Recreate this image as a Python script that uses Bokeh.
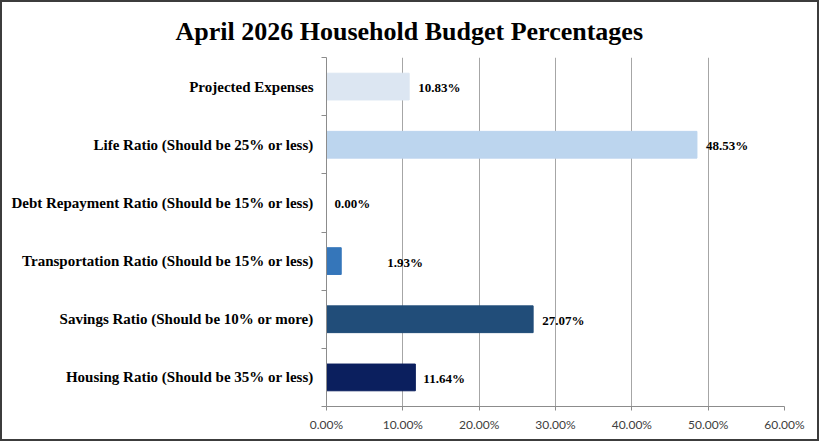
from bokeh.plotting import figure
from bokeh.models import FixedTicker, NumeralTickFormatter, ColumnDataSource, Range1d
from bokeh.embed import file_html
from bokeh.resources import INLINE
from bokeh.core.properties import value

# Budget categories, listed bottom to top
categories = [
    "Housing Ratio (Should be 35% or less)",
    "Savings Ratio (Should be 10% or more)",
    "Transportation Ratio (Should be 15% or less)",
    "Debt Repayment Ratio (Should be 15% or less)",
    "Life Ratio (Should be 25% or less)",
    "Projected Expenses",
]
# Share of income for each category (percent)
percentages = [11.64, 27.07, 1.93, 0.00, 48.53, 10.83]
# Axis ticks (percent)
x_ticks = [0, 10, 20, 30, 40, 50, 60]

bar_colors = ["#0B1F5E", "#214D79", "#3576BA", "#3576BA", "#BCD5EE", "#DCE6F2"]
label_nudge = [8, 9, 46, 8, 9, 9]

SERIF = "Liberation Serif"
SANS = "Lato"
B = 2  # outer border width

pos = [i + 0.5 for i in range(len(categories))]
frac = [v / 100 for v in percentages]

src = ColumnDataSource(dict(
    y=pos, x=frac, color=bar_colors,
    label=[f"{v:.2f}%" for v in percentages],
    nudge=label_nudge,
))

p = figure(width=819, height=441,
           output_backend="svg", toolbar_location=None,
           x_range=Range1d(0, 0.60), y_range=Range1d(0, len(categories)),
           min_border_left=324, min_border_right=37,
           min_border_top=55, min_border_bottom=37)
p.styles = {"border": f"{B}px solid #3C3C3C"}
p.outline_line_color = None
p.background_fill_color = "white"
p.border_fill_color = "white"

p.title.text = "April 2026 Household Budget Percentages"
p.title.text_font = SERIF
p.title.text_font_style = "bold"
p.title.text_font_size = "26px"
p.title.text_color = "black"
p.title.align = "left"
p.title.offset = -151
p.title.standoff = 24

p.hbar(y="y", right="x", left=0, height=0.46, color="color", source=src)
p.text(x="x", y="y", text="label", x_offset="nudge", y_offset=1, source=src,
       text_font=value(SERIF), text_font_style="bold", text_font_size="13px",
       text_baseline="middle", text_align="left", text_color="black")

# x axis: percentage scale with vertical grid
p.xaxis.ticker = FixedTicker(ticks=[t / 100 for t in x_ticks])
p.xaxis.formatter = NumeralTickFormatter(format="0.00%")
p.xaxis.axis_line_color = "#8C8C8C"
p.xaxis.major_tick_line_color = "#8C8C8C"
p.xaxis.major_tick_out = 4
p.xaxis.major_tick_in = 0
p.xaxis.minor_tick_line_color = None
p.xaxis.major_label_text_font = SANS
p.xaxis.major_label_text_font_size = "12px"
p.xaxis.major_label_text_color = "#404040"
p.xaxis.major_label_standoff = 6
p.xgrid.grid_line_color = "#A6A6A6"
p.ygrid.grid_line_color = None

# y axis: names at band centres, tick marks between bands
p.yaxis.ticker = FixedTicker(ticks=pos, minor_ticks=list(range(len(categories) + 1)))
p.yaxis.major_label_overrides = {pp: c for pp, c in zip(pos, categories)}
p.yaxis.axis_line_color = "#8C8C8C"
p.yaxis.major_tick_line_color = None
p.yaxis.major_tick_out = 0
p.yaxis.major_tick_in = 0
p.yaxis.minor_tick_line_color = "#8C8C8C"
p.yaxis.minor_tick_out = 5
p.yaxis.minor_tick_in = 0
p.yaxis.major_label_text_font = SERIF
p.yaxis.major_label_text_font_style = "bold"
p.yaxis.major_label_text_font_size = "15px"
p.yaxis.major_label_text_color = "black"
p.yaxis.major_label_standoff = 8

open("out.html", "w").write(file_html(p, INLINE))
